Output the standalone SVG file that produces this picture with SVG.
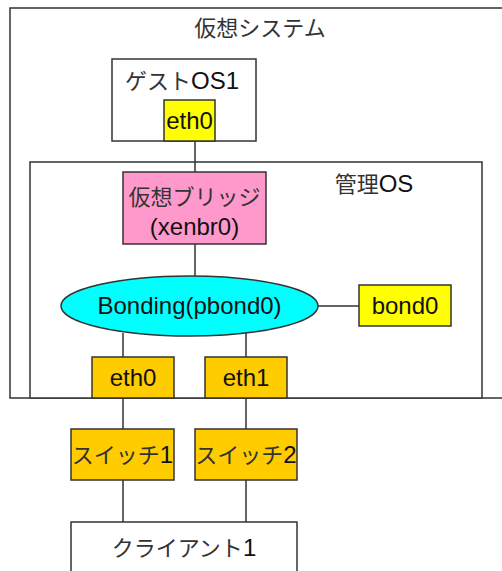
<svg xmlns="http://www.w3.org/2000/svg" width="502" height="571" viewBox="0 0 502 571">
<style>
.b{stroke:#333;stroke-width:1.5}
.t{font-family:"Liberation Sans","Noto Sans CJK JP",sans-serif;font-size:24px;fill:#111;text-anchor:middle}
.j{font-size:22px;fill:#333}
.c{stroke:#333;stroke-width:1.5;fill:none}
</style>
<rect width="502" height="571" fill="#fff"/>
<g id="virtual-system">
<rect class="b" x="10" y="8" width="500" height="390" fill="#fff"/>
<text class="t" x="260" y="36"><tspan class="j">仮想システム</tspan></text>
</g>
<g id="guest-os">
<rect class="b" x="112" y="59" width="144" height="82" fill="#fff"/>
<text class="t" x="182" y="89"><tspan class="j">ゲスト</tspan>OS1</text>
</g>
<g id="mgmt-os">
<rect class="b" x="30" y="162" width="452" height="236" fill="#fff"/>
<text class="t" x="374" y="192"><tspan class="j">管理</tspan>OS</text>
</g>
<g id="connectors">
<path class="c" d="M195 141V172M195 244V276M318 306H359M123 333V357M246 333V357M123 398V429M246 398V429M123 480V522M246 480V522"/>
</g>
<g id="guest-eth0">
<rect class="b" x="164" y="100" width="51" height="41" fill="#ffff00"/>
<text class="t" x="189.5" y="129">eth0</text>
</g>
<g id="bridge">
<rect class="b" x="123" y="172" width="143" height="72" fill="#ff99cc"/>
<text class="t" x="194.5" y="205"><tspan class="j">仮想ブリッジ</tspan></text>
<text class="t" x="194.5" y="235">(xenbr0)</text>
</g>
<g id="bonding">
<ellipse class="b" cx="189.5" cy="306" rx="128.5" ry="30" fill="#00ffff"/>
<text class="t" x="189.5" y="314">Bonding(pbond0)</text>
</g>
<g id="bond0">
<rect class="b" x="359" y="285" width="92" height="41" fill="#ffff00"/>
<text class="t" x="405" y="314">bond0</text>
</g>
<g id="eth0">
<rect class="b" x="92" y="357" width="82" height="41" fill="#ffcc00"/>
<text class="t" x="133" y="386">eth0</text>
</g>
<g id="eth1">
<rect class="b" x="205" y="357" width="82" height="41" fill="#ffcc00"/>
<text class="t" x="246" y="386">eth1</text>
</g>
<g id="switch1">
<rect class="b" x="71" y="429" width="103" height="51" fill="#ffcc00"/>
<text class="t" x="122.5" y="463"><tspan class="j">スイッチ</tspan>1</text>
</g>
<g id="switch2">
<rect class="b" x="195" y="429" width="102" height="51" fill="#ffcc00"/>
<text class="t" x="246" y="463"><tspan class="j">スイッチ</tspan>2</text>
</g>
<g id="client1">
<rect class="b" x="71" y="522" width="226" height="60" fill="#fff"/>
<text class="t" x="184" y="556"><tspan class="j">クライアント</tspan>1</text>
</g>
</svg>
